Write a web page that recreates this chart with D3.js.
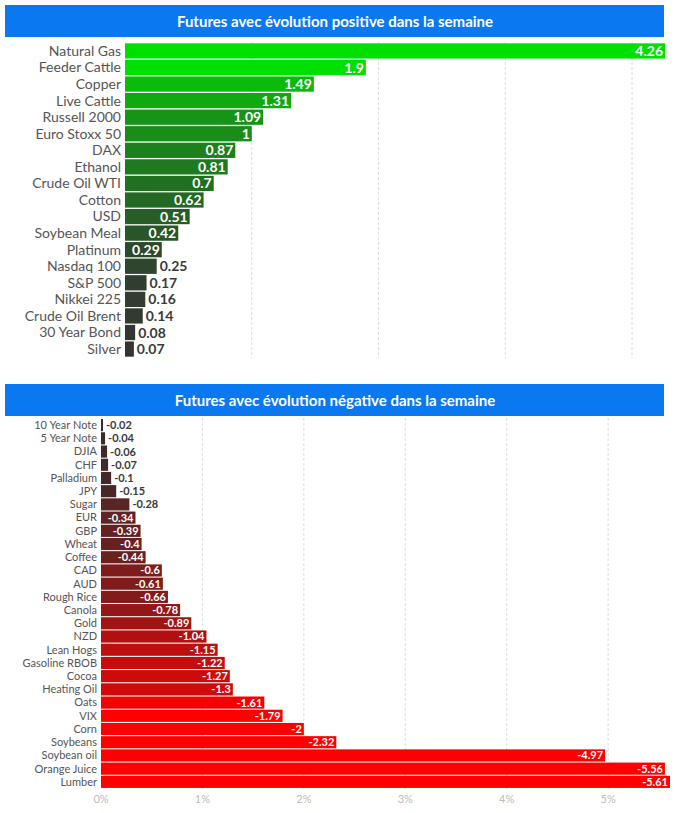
<!DOCTYPE html>
<html><head><meta charset="utf-8">
<script src="https://cdn.jsdelivr.net/npm/d3@7"></script>
<style>body{margin:0;background:#fff;font-family:Lato,sans-serif}</style>
</head><body><svg id="c" width="674" height="813"></svg>
<script>
var posNames = ["Natural Gas","Feeder Cattle","Copper","Live Cattle","Russell 2000","Euro Stoxx 50","DAX","Ethanol","Crude Oil WTI","Cotton","USD","Soybean Meal","Platinum","Nasdaq 100","S&P 500","Nikkei 225","Crude Oil Brent","30 Year Bond","Silver"];
var posValues = [4.26,1.9,1.49,1.31,1.09,1,0.87,0.81,0.7,0.62,0.51,0.42,0.29,0.25,0.17,0.16,0.14,0.08,0.07];
var negNames = ["10 Year Note","5 Year Note","DJIA","CHF","Palladium","JPY","Sugar","EUR","GBP","Wheat","Coffee","CAD","AUD","Rough Rice","Canola","Gold","NZD","Lean Hogs","Gasoline RBOB","Cocoa","Heating Oil","Oats","VIX","Corn","Soybeans","Soybean oil","Orange Juice","Lumber"];
var negValues = [-0.02,-0.04,-0.06,-0.07,-0.1,-0.15,-0.28,-0.34,-0.39,-0.4,-0.44,-0.6,-0.61,-0.66,-0.78,-0.89,-1.04,-1.15,-1.22,-1.27,-1.3,-1.61,-1.79,-2,-2.32,-4.97,-5.56,-5.61];
var negTicks = [0,1,2,3,4,5];

var svg = d3.select("#c");

function panel(o){
    svg.append("rect").attr("x",5).attr("y",o.top).attr("width",659).attr("height",32).attr("fill","#0a78f0");
    svg.append("text").attr("x",335).attr("y",o.top+22).attr("text-anchor","middle")
        .attr("fill","#fff").attr("font-weight","bold").attr("font-size",15).text(o.title);

    var x = d3.scaleLinear().domain(o.domain).range([o.x0, o.x1]);
    var y = d3.scaleBand().domain(o.names).range([o.y0, o.y1]).padding(0.08);

    svg.append("g").selectAll("line").data(o.grid).enter().append("line")
        .attr("x1",function(d){return x(d);}).attr("x2",function(d){return x(d);})
        .attr("y1",o.y0).attr("y2",o.y1)
        .attr("stroke","#ddd").attr("stroke-dasharray","3,2");

    var g = svg.append("g").selectAll("g").data(o.names).enter().append("g");
    g.append("rect")
        .attr("x",o.x0).attr("y",function(d){return y(d);})
        .attr("width",function(d,i){return x(Math.abs(o.values[i]))-o.x0;})
        .attr("height",y.bandwidth())
        .attr("fill",function(d,i){return o.color(Math.abs(o.values[i]));});
    g.append("text")
        .attr("x",o.x0-4).attr("y",function(d){return y(d)+y.bandwidth()/2;})
        .attr("dy",".35em").attr("text-anchor","end")
        .attr("font-size",o.fs).attr("fill","#555").text(function(d){return d;});
    g.append("text")
        .attr("y",function(d){return y(d)+y.bandwidth()/2;})
        .attr("dy",".36em").attr("font-weight","bold").attr("font-size",o.fs)
        .text(function(d,i){return o.values[i];})
        .each(function(d,i){
            var w = this.getComputedTextLength();
            var end = x(Math.abs(o.values[i]));
            var t = d3.select(this);
            if (end - o.x0 > w + 6) t.attr("x",end-2).attr("text-anchor","end").attr("fill","#fff");
            else t.attr("x",end+3).attr("fill","#3a3a3a");
        });
    return x;
}

panel({top:5,title:"Futures avec évolution positive dans la semaine",names:posNames,values:posValues,
    domain:[0,4.26],x0:125,x1:665,y0:42,y1:358,grid:[1,2,3,4],fs:14,
    color:d3.scaleLinear().domain([0.05,1.9]).range(["#333333","#00e000"]).clamp(true)});

var xn = panel({top:384,title:"Futures avec évolution négative dans la semaine",names:negNames,values:negValues,
    domain:[0,5.61],x0:101,x1:670,y0:418,y1:789,grid:[1,2,3,4,5],fs:11,
    color:d3.scaleLinear().domain([0.02,1.7]).range(["#3a2a2a","#ff0000"]).clamp(true)});

svg.append("g").selectAll("text").data(negTicks).enter().append("text")
    .attr("x",function(d){return xn(d);}).attr("y",803).attr("text-anchor","middle")
    .attr("font-size",11).attr("fill","#bbb").text(function(d){return d+"%";});
</script></body></html>
